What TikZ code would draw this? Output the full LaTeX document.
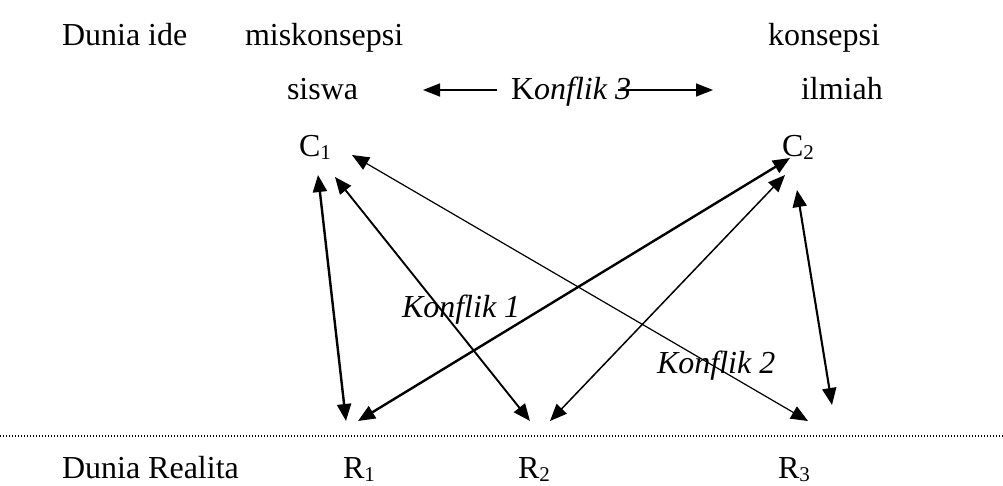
\documentclass[tikz,border=0pt]{standalone}
\usepackage{fontspec}
\setmainfont{Liberation Serif}
\usetikzlibrary{arrows.meta}
\newcommand{\mysub}[1]{\raisebox{-0.12em}{\fontsize{21}{21}\selectfont #1}}
\begin{document}
\begin{tikzpicture}[x=1pt,y=-1pt,
  every node/.style={inner sep=0pt,outer sep=0pt,font=\fontsize{32}{38}\selectfont},
  lbl/.style={anchor=base west},
  harrow/.style={line width=1.5pt,-{Triangle[length=17pt,width=13pt]}},
  darrow/.style={{Triangle[length=17pt,width=14pt]}-{Triangle[length=17pt,width=14pt]}},
  dotline/.style={line width=1.3pt,dash pattern=on 1.4pt off 1.6pt}]
\useasboundingbox (0,0) rectangle (1003,485);
% labels
\node[lbl] (dide) at (62,45) {Dunia ide};
\node[lbl] (mis) at (245,45) {miskonsepsi};
\node[lbl] (kon) at (768,45) {konsepsi};
\node[lbl] (sis) at (287,99) {siswa};
\node[lbl] (k3) at (511,99) {K\textit{onflik 3}};
\node[lbl] (ilm) at (801,99) {ilmiah};
\node[lbl] (c1) at (299,156) {C\mysub{1}};
\node[lbl] (c2) at (782,156) {C\mysub{2}};
\node[lbl] (k1) at (402,317) {\textit{Konflik 1}};
\node[lbl] (k2) at (657,373) {\textit{Konflik 2}};
\node[lbl] (dr) at (62,478) {Dunia Realita};
\node[lbl] (r1) at (343,478) {R\mysub{1}};
\node[lbl] (r2) at (518,478) {R\mysub{2}};
\node[lbl] (r3) at (778,478) {R\mysub{3}};
% arrow end points
\coordinate (k3l) at (497,90);
\coordinate (sisr) at (423,90);
\coordinate (k3r) at (618,90);
\coordinate (ilml) at (713,90);
\coordinate (c1a) at (318,175);
\coordinate (c1b) at (335,177);
\coordinate (c1c) at (352,155);
\coordinate (c2a) at (790,158);
\coordinate (c2b) at (785,175);
\coordinate (c2c) at (797,190);
\coordinate (r1a) at (346,421);
\coordinate (r1b) at (358,421);
\coordinate (r2a) at (530,421);
\coordinate (r2b) at (550,421);
\coordinate (r3a) at (808,421);
\coordinate (r3b) at (832,405);
\coordinate (dl) at (0,436);
\coordinate (dr2) at (1003,436);
% connectors
\draw[harrow] (k3l) -- (sisr);
\draw[harrow] (k3r) -- (ilml);
\draw[darrow,line width=2.4pt] (c1a) -- (r1a);
\draw[darrow,line width=1.9pt] (c1b) -- (r2a);
\draw[darrow,line width=1.2pt] (c1c) -- (r3a);
\draw[darrow,line width=2.4pt] (c2a) -- (r1b);
\draw[darrow,line width=1.5pt] (c2b) -- (r2b);
\draw[darrow,line width=2.1pt] (c2c) -- (r3b);
\draw[dotline] (dl) -- (dr2);
\end{tikzpicture}
\end{document}
